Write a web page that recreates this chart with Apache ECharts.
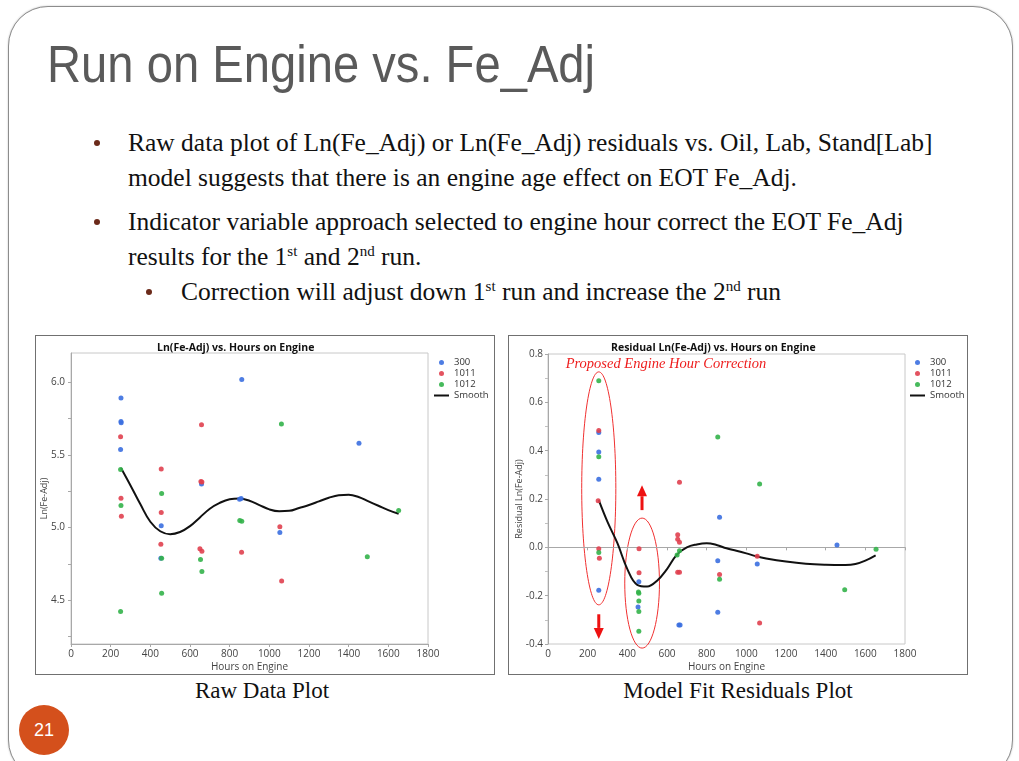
<!DOCTYPE html>
<html>
<head>
<meta charset="utf-8">
<script src="https://cdn.jsdelivr.net/npm/echarts@6/dist/echarts.min.js"></script>
<style>
  html, body { margin: 0; padding: 0; background: #fff; }
  body { width: 1019px; height: 761px; position: relative; overflow: hidden; }
  .card {
    position: absolute; left: 8px; top: 6px; width: 1003px; height: 772px;
    border: 1px solid #8c8c8c; border-radius: 40px; background: #fff;
    box-shadow: 0 0 2px rgba(0,0,0,0.25);
  }
  .title {
    position: absolute; left: 47px; top: 39px; margin: 0;
    font-family: "Liberation Sans", sans-serif; font-size: 51px; line-height: 51px;
    font-weight: normal; color: #5a5a5a; white-space: nowrap;
    transform: scaleX(0.925); transform-origin: left top;
  }
  .txt {
    position: absolute; font-family: "Liberation Serif", "DejaVu Serif", serif;
    font-size: 25.5px; line-height: 35px; color: #111; white-space: nowrap;
  }
  .txt sup { font-size: 15px; line-height: 0; vertical-align: 9px; }
  .bullet {
    position: absolute; width: 6px; height: 6px; border-radius: 3px; background: #6b2a1a;
  }
  .box {
    position: absolute; width: 458px; height: 338px; border: 1px solid #707070; background: #fff;
  }
  .caption {
    position: absolute; font-family: "Liberation Serif", serif; font-size: 23px; color: #111;
    text-align: center; white-space: nowrap;
  }
  .pagenum {
    position: absolute; left: 19px; top: 705px; width: 50px; height: 50px; border-radius: 25px;
    background: #d4501c; color: #fff; font-family: "Liberation Sans", sans-serif; font-size: 18px;
    line-height: 50px; text-align: center;
  }
</style>
</head>
<body>
<div class="card"></div>
<h1 class="title">Run on Engine vs. Fe_Adj</h1>

<div class="bullet" style="left:94px; top:140px;"></div>
<div class="txt" style="left:128px; top:125px;">Raw data plot of Ln(Fe_Adj) or Ln(Fe_Adj) residuals vs. Oil, Lab, Stand[Lab]<br>model suggests that there is an engine age effect on EOT Fe_Adj.</div>
<div class="bullet" style="left:94px; top:219px;"></div>
<div class="txt" style="left:128px; top:204px;">Indicator variable approach selected to engine hour correct the EOT Fe_Adj<br>results for the 1<sup>st</sup> and 2<sup>nd</sup> run.</div>
<div class="bullet" style="left:146px; top:289px;"></div>
<div class="txt" style="left:181px; top:274px;">Correction will adjust down 1<sup>st</sup> run and increase the 2<sup>nd</sup> run</div>

<div class="box" style="left:35px; top:335px;"><div id="rawChart" style="width:458px;height:338px;"></div></div>
<div class="box" style="left:508px; top:335px;"><div id="resChart" style="width:458px;height:338px;"></div></div>

<div class="caption" style="left:162px; width:200px; top:678px;">Raw Data Plot</div>
<div class="caption" style="left:588px; width:300px; top:678px;">Model Fit Residuals Plot</div>
<div class="pagenum">21</div>

<script>
const hoursTicks = [0, 200, 400, 600, 800, 1000, 1200, 1400, 1600, 1800]
const groupNames = ['300', '1011', '1012']
const groupColors = ['#3b6fe0', '#e0404f', '#33b24a']

// Raw data plot: [hours, Ln(Fe-Adj)]
const raw300 = [[252, 5.89], [252, 5.73], [253, 5.72], [250, 5.536], [861, 6.018], [1452, 5.58],
  [658, 5.30], [850, 5.195], [858, 5.20], [455, 5.012], [453, 4.79], [1053, 4.966]]
const raw1011 = [[250, 5.625], [252, 5.202], [254, 5.078], [658, 5.707], [455, 5.403], [455, 5.104],
  [453, 4.886], [655, 5.316], [660, 5.314], [650, 4.855], [660, 4.838], [860, 4.83], [1053, 5.005], [1062, 4.633]]
const raw1012 = [[250, 5.40], [252, 5.152], [250, 4.424], [457, 5.234], [457, 4.79], [457, 4.548],
  [653, 4.781], [660, 4.699], [851, 5.049], [861, 5.044], [1061, 5.712], [1494, 4.80], [1652, 5.117]]
const rawSmoothX = [252, 300, 350, 400, 450, 500, 550, 600, 650, 700, 750, 800, 850, 900, 950, 1000,
  1050, 1100, 1150, 1200, 1250, 1300, 1350, 1400, 1450, 1500, 1550, 1600, 1652]
const rawSmoothY = [5.41, 5.29, 5.16, 5.04, 4.975, 4.955, 4.97, 5.01, 5.07, 5.13, 5.17, 5.195, 5.20, 5.185,
  5.155, 5.125, 5.112, 5.115, 5.135, 5.155, 5.18, 5.205, 5.222, 5.225, 5.21, 5.18, 5.15, 5.12, 5.095]
const rawLabelTicks = [4.5, 5.0, 5.5, 6.0]
const rawMinorTicks = [4.25, 4.5, 4.75, 5.0, 5.25, 5.5, 5.75, 6.0]

// Residual plot: [hours, residual]
const res300 = [[256, 0.475], [256, 0.395], [256, 0.282], [256, -0.178], [458, -0.142], [454, -0.247],
  [865, 0.124], [856, -0.056], [856, -0.269], [660, -0.321], [666, -0.321], [1055, -0.069], [1457, 0.010]]
const res1011 = [[256, 0.483], [253, 0.193], [256, -0.006], [259, -0.045], [459, -0.006], [459, -0.105],
  [663, 0.269], [654, 0.052], [654, 0.033], [663, 0.021], [654, -0.103], [663, -0.103], [865, -0.112],
  [1055, -0.037], [1067, -0.313]]
const res1012 = [[256, 0.689], [256, 0.375], [256, -0.021], [456, -0.185], [458, -0.19], [458, -0.222],
  [458, -0.266], [458, -0.347], [663, -0.014], [651, -0.032], [856, 0.457], [865, -0.132], [1067, 0.262],
  [1496, -0.176], [1654, -0.008]]
const resSmoothX = [256, 300, 350, 400, 450, 500, 550, 600, 650, 700, 750, 800, 850, 900, 950, 1000,
  1050, 1100, 1200, 1300, 1400, 1500, 1550, 1600, 1652]
const resSmoothY = [0.195, 0.105, 0.017, -0.09, -0.155, -0.162, -0.138, -0.09, -0.03, 0.0, 0.012, 0.017,
  0.01, -0.004, -0.014, -0.025, -0.037, -0.046, -0.059, -0.068, -0.072, -0.073, -0.069, -0.055, -0.033]

// annotation anchors (data units) for the residual plot
const correctionLabel = 'Proposed Engine Hour Correction'
const firstRunEllipse = { x0: 170, x1: 342, y0: -0.238, y1: 0.726 }
const secondRunEllipse = { x0: 387, x1: 562, y0: -0.417, y1: 0.121 }
const upArrow = { x: 474, base: 0.154, tip: 0.257 }
const downArrow = { x: 256, base: -0.277, tip: -0.379 }

const axisFont = { fontFamily: 'Open Sans, sans-serif', fontSize: 10, color: '#444' }

const zip = (xs, ys) => xs.map((x, i) => [x, ys[i]])

const buildOption = (cfg) => ({
  animation: false,
  title: {
    text: cfg.title,
    left: cfg.titleLeft,
    top: 2,
    textStyle: { fontFamily: 'Open Sans, sans-serif', fontSize: 10.5, fontWeight: 'bold', color: '#111' }
  },
  legend: {
    orient: 'vertical',
    left: cfg.legendLeft,
    top: 16,
    itemWidth: 15,
    itemHeight: 5,
    itemGap: 0,
    data: groupNames.concat([{ name: 'Smooth', icon: 'path://M0,0 L15,0 L15,2 L0,2 Z' }]),
    textStyle: { fontFamily: 'Open Sans, sans-serif', fontSize: 9.5, lineHeight: 11, color: '#333' }
  },
  grid: Object.assign({ show: true, borderColor: '#c8c8c8', borderWidth: 1, outerBoundsMode: 'none', containLabel: false }, cfg.grid),
  xAxis: {
    type: 'value',
    min: hoursTicks[0],
    max: hoursTicks[hoursTicks.length - 1],
    interval: 200,
    name: 'Hours on Engine',
    nameLocation: 'middle',
    nameGap: 18,
    nameMoveOverlap: false,
    nameTextStyle: axisFont,
    axisLine: { lineStyle: { color: '#a8a8a8' } },
    axisTick: { length: 3, lineStyle: { color: '#a8a8a8' } },
    axisLabel: Object.assign({ margin: 5, formatter: (v) => String(v) }, axisFont),
    splitLine: { show: false }
  },
  yAxis: Object.assign({
    type: 'value',
    name: cfg.yName,
    nameLocation: 'middle',
    nameGap: cfg.yNameGap,
    nameMoveOverlap: false,
    nameTextStyle: Object.assign({}, axisFont, { fontSize: 9 }),
    axisLine: { show: true, lineStyle: { color: '#a8a8a8' } },
    splitLine: { show: false }
  }, cfg.yAxis),
  series: [
    ...cfg.groups.map((data, i) => ({
      name: groupNames[i],
      type: 'scatter',
      data,
      symbolSize: 5,
      itemStyle: { color: groupColors[i], opacity: 0.9 },
      z: 3
    })),
    {
      name: 'Smooth',
      type: 'line',
      data: cfg.smooth,
      smooth: 0.4,
      showSymbol: false,
      symbol: 'none',
      color: '#111',
      lineStyle: { width: 2, color: '#111' },
      z: 2
    }
  ]
})

const rawChart = echarts.init(document.getElementById('rawChart'))
rawChart.setOption(buildOption({
  title: 'Ln(Fe-Adj) vs. Hours on Engine',
  titleLeft: 116,
  legendLeft: 393,
  grid: { left: 35, right: 66, top: 17, bottom: 30 },
  yName: 'Ln(Fe-Adj)',
  yNameGap: 22,
  yAxis: {
    min: 4.2,
    max: 6.2,
    axisTick: { show: true, length: 3, customValues: rawMinorTicks, lineStyle: { color: '#a8a8a8' } },
    axisLabel: Object.assign({ margin: 6, customValues: rawLabelTicks, formatter: (v) => v.toFixed(1) }, axisFont)
  },
  groups: [raw300, raw1011, raw1012],
  smooth: zip(rawSmoothX, rawSmoothY)
}))

const resChart = echarts.init(document.getElementById('resChart'))
resChart.setOption(buildOption({
  title: 'Residual Ln(Fe-Adj) vs. Hours on Engine',
  titleLeft: 97,
  legendLeft: 396,
  grid: { left: 39, right: 62, top: 18, bottom: 30 },
  yName: 'Residual Ln(Fe-Adj)',
  yNameGap: 24,
  yAxis: {
    min: -0.4,
    max: 0.8,
    interval: 0.2,
    axisTick: { show: true, length: 3, lineStyle: { color: '#a8a8a8' } },
    minorTick: { show: true, splitNumber: 2, length: 3, lineStyle: { color: '#c0c0c0' } },
    axisLabel: Object.assign({ margin: 5, formatter: (v) => v.toFixed(1) }, axisFont)
  },
  groups: [res300, res1011, res1012],
  smooth: zip(resSmoothX, resSmoothY)
}))

const toPx = (x, y) => resChart.convertToPixel({ gridIndex: 0 }, [x, y])

const ellipseShape = (e) => {
  const a = toPx(e.x0, e.y1)
  const b = toPx(e.x1, e.y0)
  return { cx: (a[0] + b[0]) / 2, cy: (a[1] + b[1]) / 2, rx: (b[0] - a[0]) / 2, ry: (b[1] - a[1]) / 2 }
}

const arrowGraphics = (ar) => {
  const base = toPx(ar.x, ar.base)
  const tip = toPx(ar.x, ar.tip)
  const dir = tip[1] < base[1] ? -1 : 1
  const neck = tip[1] - dir * 11
  return [
    { type: 'line', shape: { x1: base[0], y1: base[1], x2: base[0], y2: neck }, style: { stroke: '#ee1111', lineWidth: 3 } },
    { type: 'polygon', shape: { points: [[tip[0], tip[1]], [tip[0] - 5, neck], [tip[0] + 5, neck]] }, style: { fill: '#ee1111' } }
  ]
}

const labelPos = toPx(89, 0.757)
resChart.setOption({
  graphic: [
    {
      type: 'text',
      x: labelPos[0],
      y: labelPos[1],
      style: {
        text: correctionLabel,
        fill: '#ee1c1c',
        font: 'italic 14.5px "Liberation Serif", serif',
        verticalAlign: 'middle'
      }
    },
    { type: 'ellipse', shape: ellipseShape(firstRunEllipse), style: { fill: 'none', stroke: '#f03030', lineWidth: 1 } },
    { type: 'ellipse', shape: ellipseShape(secondRunEllipse), style: { fill: 'none', stroke: '#f03030', lineWidth: 1 } },
    ...arrowGraphics(upArrow),
    ...arrowGraphics(downArrow)
  ]
})
</script>
</body>
</html>
